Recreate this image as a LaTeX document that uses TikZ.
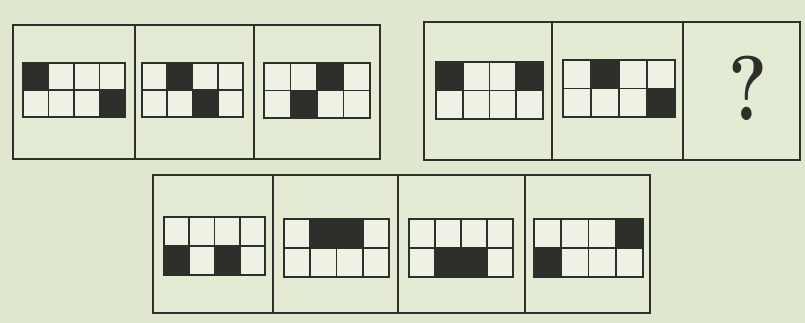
\documentclass[tikz,border=0pt]{standalone}
\usepackage{tikz}
\definecolor{bg}{HTML}{DFE8CE}
\definecolor{panelbg}{HTML}{E3EBD4}
\definecolor{cellbg}{HTML}{EEF2E4}
\definecolor{ink}{HTML}{2E2E2B}
\tikzset{
  outerbox/.style={draw=ink, line width=1.4pt},
  gridline/.style={draw=ink, line width=1.8pt},
  darkcell/.style={fill=ink},
  qmark/.style={font=\fontsize{92}{92}\selectfont\bfseries, text=ink, inner sep=0pt, xscale=0.8}
}
\newcommand\mygrid[5]{%
  \pgfmathsetmacro\cw{(#3-#1)/4}%
  \pgfmathsetmacro\ch{(#4-#2)/2}%
  \fill[cellbg] (#1,#2) rectangle (#3,#4);
  \foreach \c/\r in {#5} {\fill[darkcell] ({#1+(\c-1)*\cw},{#2+(\r-1)*\ch}) rectangle ++(\cw,\ch);}
  \draw[gridline] (#1,#2) rectangle (#3,#4);
  \draw[gridline] (#1,{#2+\ch}) -- (#3,{#2+\ch});
  \foreach \k in {1,2,3} {\draw[gridline] ({#1+\k*\cw},#2) -- ({#1+\k*\cw},#4);}
}
\begin{document}
\begin{tikzpicture}[x=1pt,y=-1pt]
\fill[bg] (0,0) rectangle (805,323);
\useasboundingbox (0,0) rectangle (805,323);
% top-left group
\fill[panelbg] (13,25) rectangle (380,159);
\draw[outerbox] (13,25) rectangle (380,159);
\draw[outerbox] (135,25) -- (135,159);
\draw[outerbox] (254,25) -- (254,159);
\mygrid{23}{63}{125}{117}{1/1,4/2}
\mygrid{142}{63}{243}{117}{2/1,3/2}
\mygrid{264}{63}{370}{118}{3/1,2/2}
% top-right group
\fill[panelbg] (424,22) rectangle (800,160);
\draw[outerbox] (424,22) rectangle (800,160);
\draw[outerbox] (552,22) -- (552,160);
\draw[outerbox] (683,22) -- (683,160);
\mygrid{436}{62}{543}{119}{1/1,4/1}
\mygrid{563}{60}{675}{117}{2/1,4/2}
\node[qmark] (q) at (748,88) {?};
% bottom group
\fill[panelbg] (153,175) rectangle (650,313);
\draw[outerbox] (153,175) rectangle (650,313);
\draw[outerbox] (273,175) -- (273,313);
\draw[outerbox] (398,175) -- (398,313);
\draw[outerbox] (525,175) -- (525,313);
\mygrid{164}{217}{265}{275}{1/2,3/2}
\mygrid{284}{219}{389}{277}{2/1,3/1}
\mygrid{409}{219}{513}{277}{2/2,3/2}
\mygrid{534}{219}{643}{277}{4/1,1/2}
\end{tikzpicture}
\end{document}
